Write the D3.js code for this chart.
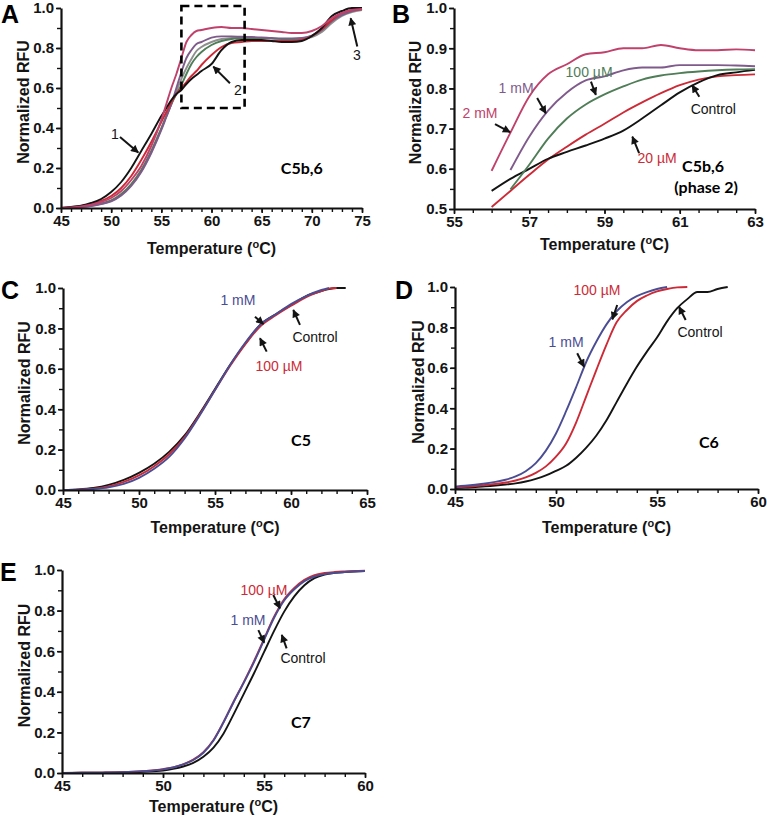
<!DOCTYPE html>
<html>
<head>
<meta charset="utf-8">
<script src="https://cdn.jsdelivr.net/npm/d3@7"></script>
<style>
  body { margin: 0; background: #fff; }
  svg { display: block; }
  .axis path, .axis line { stroke: #111; }
</style>
</head>
<body>
<div id="chart"></div>
<script>
// ---- data ----
// A: C5b,6 full melt
const tempA = [45,46,47,48,49,50,51,52,53,54,55,55.5,56,56.5,57,57.5,58,58.5,59,60,61,62,63,64,65,66,67,68,69,70,71,72,73,74,75]
const aControl = [0,0.005,0.012,0.025,0.045,0.08,0.13,0.2,0.285,0.37,0.46,0.5,0.54,0.57,0.59,0.62,0.645,0.665,0.685,0.72,0.79,0.83,0.84,0.84,0.84,0.835,0.83,0.83,0.835,0.86,0.9,0.96,0.985,1.0,1.0]
const a20uM = [0,0.004,0.01,0.02,0.035,0.06,0.1,0.16,0.24,0.33,0.43,0.48,0.53,0.57,0.6,0.63,0.66,0.685,0.715,0.765,0.805,0.825,0.83,0.835,0.835,0.835,0.835,0.835,0.84,0.86,0.895,0.94,0.975,0.99,0.995]
const a100uM = [0,0.002,0.006,0.012,0.022,0.038,0.07,0.12,0.19,0.285,0.4,0.46,0.52,0.57,0.615,0.67,0.72,0.755,0.78,0.815,0.835,0.845,0.85,0.85,0.85,0.848,0.845,0.845,0.848,0.86,0.89,0.935,0.965,0.985,0.995]
const a500uM = [0,0.002,0.005,0.011,0.021,0.035,0.065,0.115,0.185,0.28,0.395,0.46,0.52,0.585,0.645,0.7,0.745,0.785,0.805,0.83,0.845,0.85,0.852,0.852,0.85,0.847,0.845,0.843,0.845,0.855,0.88,0.925,0.96,0.98,0.99]
const a1mM = [0,0.002,0.005,0.01,0.02,0.033,0.062,0.11,0.18,0.275,0.39,0.455,0.52,0.6,0.68,0.75,0.79,0.82,0.83,0.852,0.858,0.858,0.856,0.855,0.853,0.85,0.848,0.848,0.85,0.862,0.89,0.935,0.965,0.985,0.995]
const a2mM = [0,0.003,0.008,0.016,0.03,0.05,0.085,0.14,0.21,0.31,0.44,0.52,0.6,0.67,0.75,0.83,0.865,0.885,0.89,0.9,0.905,0.9,0.9,0.895,0.89,0.885,0.88,0.875,0.875,0.885,0.91,0.95,0.975,0.99,0.995]

// B: C5b,6 phase 2
const tempB = [56,56.5,57,57.5,58,58.5,59,59.5,60,60.5,61,61.5,62,62.5,63]
const b2mM = [0.595,0.69,0.78,0.835,0.86,0.885,0.89,0.9,0.9,0.908,0.9,0.895,0.895,0.897,0.895]
const b1mM = [null,0.597,0.68,0.745,0.79,0.82,0.83,0.845,0.852,0.852,0.858,0.858,0.858,0.857,0.855]
const b100uM = [null,0.549,0.61,0.675,0.725,0.76,0.785,0.805,0.822,0.832,0.838,0.842,0.845,0.847,0.848]
const b20uM = [0.505,0.545,0.585,0.623,0.655,0.685,0.712,0.74,0.765,0.788,0.808,0.822,0.83,0.833,0.835]
const bControl = [0.545,0.575,0.6,0.625,0.642,0.658,0.675,0.695,0.725,0.758,0.79,0.815,0.833,0.84,0.846]

// C: C5
const tempC = [45,46,47,48,49,50,51,52,53,54,55,56,57,58,59,60,61,62,62.5,63,63.6]
const cControl = [0,0.003,0.01,0.025,0.05,0.085,0.13,0.19,0.27,0.38,0.5,0.62,0.725,0.82,0.87,0.915,0.96,0.985,0.995,1.0,1.0]
const c100uM = [0,0.002,0.007,0.018,0.04,0.072,0.118,0.178,0.262,0.375,0.495,0.615,0.722,0.812,0.865,0.912,0.955,0.985,0.997,1.0,null]
const c1mM = [0,0.001,0.005,0.013,0.03,0.06,0.105,0.165,0.255,0.37,0.495,0.62,0.73,0.82,0.87,0.92,0.96,0.99,1.0,null,null]

// D: C6
const tempD = [45,45.5,46,46.5,47,47.5,48,48.5,49,49.5,50,50.5,51,51.5,52,52.5,53,53.5,54,54.5,55,55.5,56,56.5,57,57.5,58,58.5]
const d1mM = [0.012,0.016,0.021,0.027,0.035,0.046,0.062,0.088,0.128,0.19,0.275,0.385,0.505,0.63,0.73,0.815,0.88,0.925,0.955,0.975,0.99,1.0,null,null,null,null,null,null]
const d100uM = [0.008,0.011,0.015,0.02,0.025,0.032,0.042,0.057,0.08,0.112,0.16,0.225,0.33,0.46,0.59,0.715,0.825,0.885,0.93,0.958,0.978,0.99,0.998,1.0,null,null,null,null]
const dControl = [0.005,0.007,0.01,0.013,0.017,0.022,0.028,0.037,0.05,0.067,0.09,0.115,0.155,0.205,0.265,0.34,0.43,0.52,0.605,0.68,0.75,0.83,0.895,0.94,0.975,0.975,0.99,1.0]

// E: C7
const tempE = [45,46,47,48,49,50,50.5,51,51.5,52,52.5,53,53.5,54,54.5,55,55.5,56,56.5,57,57.5,58,58.5,59,60]
const e1mM = [0,0.001,0.002,0.004,0.009,0.018,0.027,0.042,0.064,0.1,0.16,0.25,0.35,0.445,0.545,0.655,0.765,0.85,0.905,0.945,0.968,0.98,0.986,0.99,0.995]
const e100uM = [0,0.001,0.002,0.004,0.009,0.019,0.028,0.043,0.066,0.103,0.163,0.252,0.352,0.448,0.55,0.66,0.77,0.856,0.912,0.952,0.975,0.985,0.99,0.993,0.997]
const eControl = [0,0.001,0.001,0.003,0.006,0.012,0.02,0.032,0.05,0.08,0.125,0.195,0.29,0.39,0.49,0.595,0.7,0.795,0.87,0.925,0.96,0.978,0.986,0.99,0.995]

// tick labels
const ticks45to75 = [45,50,55,60,65,70,75]
const ticks55to63 = [55,57,59,61,63]
const ticks45to65 = [45,50,55,60,65]
const ticks45to60 = [45,50,55,60]
const ticksRFU = [0,0.2,0.4,0.6,0.8,1.0]
const ticksRFUphase2 = [0.5,0.6,0.7,0.8,0.9,1.0]

const BLACK = '#141414', RED = '#cc2a36', BLUE = '#4b4d93'
const MAGENTA = '#c0416b', PURPLE = '#7f5b8c', GREEN = '#4f7d57', GRAY = '#8e8e8e'
const SANS = '"Liberation Sans", Arial, sans-serif'

const W = 767, H = 819
const svg = d3.select('#chart').append('svg').attr('width', W).attr('height', H)

svg.append('defs').append('marker')
  .attr('id', 'ah')
  .attr('viewBox', '0 0 10 10')
  .attr('refX', 9).attr('refY', 5)
  .attr('markerWidth', 9).attr('markerHeight', 8)
  .attr('markerUnits', 'userSpaceOnUse')
  .attr('orient', 'auto')
  .append('path').attr('d', 'M0,0L10,5L0,10z').attr('fill', BLACK)

const range = (a, b, s) => d3.range(a, b + s / 2, s)

const panels = [
  {
    letter: 'A', lx: 1, ly: 23, px: [61, 362], py: [208, 8],
    xDom: [45, 75], yDom: [0, 1], xTicks: ticks45to75, xMinor: range(45, 75, 1),
    yTicks: ticksRFU, yMinor: range(0, 1, 0.1), titleY: 254, yTitleX: 23,
    series: [
      [tempA, a500uM, GRAY], [tempA, a100uM, GREEN], [tempA, a1mM, PURPLE],
      [tempA, a20uM, RED], [tempA, aControl, BLACK], [tempA, a2mM, MAGENTA]
    ],
    box: [57, 63.3, 0.5, 1.01],
    notes: [['1', 50.38, 0.37, BLACK], ['2', 62.64, 0.59, BLACK], ['3', 74.5, 0.765, BLACK]],
    arrows: [[50.88, 0.355, 52.7, 0.277], [61.84, 0.624, 60.18, 0.707], [74.53, 0.807, 73.87, 0.949]],
    labels: [['C5b,6', 69.0, 0.2]]
  },
  {
    letter: 'B', lx: 392, ly: 23, px: [454, 755], py: [209, 8],
    xDom: [55, 63], yDom: [0.5, 1], xTicks: ticks55to63, xMinor: range(55, 63, 0.5),
    yTicks: ticksRFUphase2, yMinor: range(0.5, 1, 0.05), titleY: 250, yTitleX: 415,
    series: [
      [tempB, b20uM, RED], [tempB, bControl, BLACK], [tempB, b100uM, GREEN],
      [tempB, b1mM, PURPLE], [tempB, b2mM, MAGENTA]
    ],
    notes: [['2 mM', 55.69, 0.739, MAGENTA], ['1 mM', 56.65, 0.801, PURPLE], ['100 µM', 58.59, 0.841, GREEN],
      ['Control', 61.89, 0.749, BLACK], ['20 µM', 60.4, 0.627, RED]],
    arrows: [[56.09, 0.711, 56.49, 0.691], [57.21, 0.776, 57.44, 0.738], [58.64, 0.817, 58.77, 0.784],
      [61.52, 0.779, 61.33, 0.808], [59.92, 0.639, 59.74, 0.68]],
    labels: [['C5b,6', 61.62, 0.605], ['(phase 2)', 61.7, 0.553]]
  },
  {
    letter: 'C', lx: 1, ly: 299, px: [63, 367], py: [490, 288],
    xDom: [45, 65], yDom: [0, 1], xTicks: ticks45to65, xMinor: range(45, 65, 1),
    yTicks: ticksRFU, yMinor: range(0, 1, 0.1), titleY: 533, yTitleX: 24,
    series: [[tempC, cControl, BLACK], [tempC, c100uM, RED], [tempC, c1mM, BLUE]],
    notes: [['1 mM', 56.51, 0.94, BLUE], ['Control', 61.58, 0.757, BLACK], ['100 µM', 59.21, 0.614, RED]],
    arrows: [[57.63, 0.858, 58.18, 0.822], [60.59, 0.817, 60.15, 0.891], [58.4, 0.685, 57.96, 0.751]],
    labels: [['C5', 60.66, 0.248]]
  },
  {
    letter: 'D', lx: 395, ly: 299, px: [455, 758], py: [489, 287],
    xDom: [45, 60], yDom: [0, 1], xTicks: ticks45to60, xMinor: range(45, 60, 1),
    yTicks: ticksRFU, yMinor: range(0, 1, 0.1), titleY: 533, yTitleX: 418,
    series: [[tempD, dControl, BLACK], [tempD, d100uM, RED], [tempD, d1mM, BLUE]],
    notes: [['100 µM', 52.03, 0.985, RED], ['1 mM', 50.5, 0.728, BLUE], ['Control', 57.13, 0.777, BLACK]],
    arrows: [[53.03, 0.911, 52.79, 0.84], [51.05, 0.672, 51.39, 0.605], [56.42, 0.837, 56.09, 0.902]],
    labels: [['C6', 57.57, 0.233]]
  },
  {
    letter: 'E', lx: 0, ly: 581, px: [62, 365], py: [773, 570],
    xDom: [45, 60], yDom: [0, 1], xTicks: ticks45to60, xMinor: range(45, 60, 1),
    yTicks: ticksRFU, yMinor: range(0, 1, 0.1), titleY: 812, yTitleX: 24,
    series: [[tempE, eControl, BLACK], [tempE, e100uM, RED], [tempE, e1mM, BLUE]],
    notes: [['100 µM', 55.0, 0.901, RED], ['1 mM', 54.21, 0.754, BLUE], ['Control', 56.93, 0.567, BLACK]],
    arrows: [[55.46, 0.877, 55.79, 0.811], [54.72, 0.704, 55.01, 0.642], [56.12, 0.614, 55.88, 0.68]],
    labels: [['C7', 56.83, 0.251]]
  }
]

panels.forEach(p => {
  const x = d3.scaleLinear().domain(p.xDom).range(p.px)
  const y = d3.scaleLinear().domain(p.yDom).range(p.py)
  const g = svg.append('g')

  // curves
  const line = d3.line()
    .defined(d => d[1] != null)
    .x(d => x(d[0]))
    .y(d => y(d[1]))
    .curve(d3.curveMonotoneX)

  p.series.forEach(s => {
    g.append('path')
      .datum(d3.zip(s[0], s[1]))
      .attr('d', line)
      .attr('fill', 'none')
      .attr('stroke', s[2])
      .attr('stroke-width', 1.9)
      .attr('stroke-linejoin', 'round')
  })

  // minor ticks
  g.append('g').attr('class', 'axis')
    .attr('transform', 'translate(0,' + p.py[0] + ')')
    .call(d3.axisBottom(x).tickValues(p.xMinor).tickSize(4).tickFormat(''))
    .call(a => a.select('.domain').remove())
    .selectAll('line').attr('stroke-width', 1.4)

  g.append('g').attr('class', 'axis')
    .attr('transform', 'translate(' + p.px[0] + ',0)')
    .call(d3.axisLeft(y).tickValues(p.yMinor).tickSize(4).tickFormat(''))
    .call(a => a.select('.domain').remove())
    .selectAll('line').attr('stroke-width', 1.4)

  // major axes
  const xa = g.append('g').attr('class', 'axis')
    .attr('transform', 'translate(0,' + p.py[0] + ')')
    .call(d3.axisBottom(x).tickValues(p.xTicks).tickSize(5).tickSizeOuter(0).tickPadding(2).tickFormat(d3.format('d')))
  xa.select('.domain').attr('stroke-width', 2.2)
  xa.selectAll('line').attr('stroke-width', 1.6)
  xa.selectAll('text').style('font', 'bold 15px ' + SANS).attr('fill', BLACK)

  const ya = g.append('g').attr('class', 'axis')
    .attr('transform', 'translate(' + p.px[0] + ',0)')
    .call(d3.axisLeft(y).tickValues(p.yTicks).tickSize(5).tickSizeOuter(0).tickPadding(2).tickFormat(d3.format('.1f')))
  ya.select('.domain').attr('stroke-width', 2.2)
  ya.selectAll('line').attr('stroke-width', 1.6)
  ya.selectAll('text').style('font', 'bold 15px ' + SANS).attr('fill', BLACK)

  // axis titles
  const xt = g.append('text')
    .attr('x', (p.px[0] + p.px[1]) / 2)
    .attr('y', p.titleY)
    .attr('text-anchor', 'middle')
    .style('font', 'bold 16px ' + SANS)
    .attr('fill', BLACK)
  xt.append('tspan').text('Temperature (')
  xt.append('tspan').attr('dy', -6).style('font-size', '11px').text('o')
  xt.append('tspan').attr('dy', 6).text('C)')

  g.append('text')
    .attr('transform', 'translate(' + p.yTitleX + ',' + ((p.py[0] + p.py[1]) / 2 - 6) + ') rotate(-90)')
    .attr('text-anchor', 'middle')
    .attr('dy', '0.35em')
    .style('font', 'bold 16px ' + SANS)
    .attr('fill', BLACK)
    .text('Normalized RFU')

  // panel letter
  g.append('text')
    .attr('x', p.lx).attr('y', p.ly)
    .style('font', 'bold 25px ' + SANS)
    .attr('fill', '#000')
    .text(p.letter)

  // dashed zoom box
  if (p.box) {
    g.append('rect')
      .attr('x', x(p.box[0])).attr('y', y(p.box[3]))
      .attr('width', x(p.box[1]) - x(p.box[0]))
      .attr('height', y(p.box[2]) - y(p.box[3]))
      .attr('fill', 'none')
      .attr('stroke', '#000')
      .attr('stroke-width', 2.6)
      .attr('stroke-dasharray', '8,5')
  }

  // arrows
  p.arrows.forEach(a => {
    g.append('line')
      .attr('x1', x(a[0])).attr('y1', y(a[1]))
      .attr('x2', x(a[2])).attr('y2', y(a[3]))
      .attr('stroke', BLACK)
      .attr('stroke-width', 2)
      .attr('marker-end', 'url(#ah)')
  })

  // curve notes
  p.notes.forEach(n => {
    g.append('text')
      .attr('x', x(n[1])).attr('y', y(n[2]))
      .attr('dy', '0.35em')
      .attr('text-anchor', 'middle')
      .style('font', '14px ' + SANS)
      .attr('fill', n[3])
      .text(n[0])
  })

  // protein labels
  p.labels.forEach(l => {
    g.append('text')
      .attr('x', x(l[1])).attr('y', y(l[2]))
      .attr('dy', '0.35em')
      .attr('text-anchor', 'middle')
      .style('font', 'bold 16px Lato, "Open Sans", sans-serif')
      .attr('fill', '#000')
      .text(l[0])
  })
})
</script>
</body>
</html>
